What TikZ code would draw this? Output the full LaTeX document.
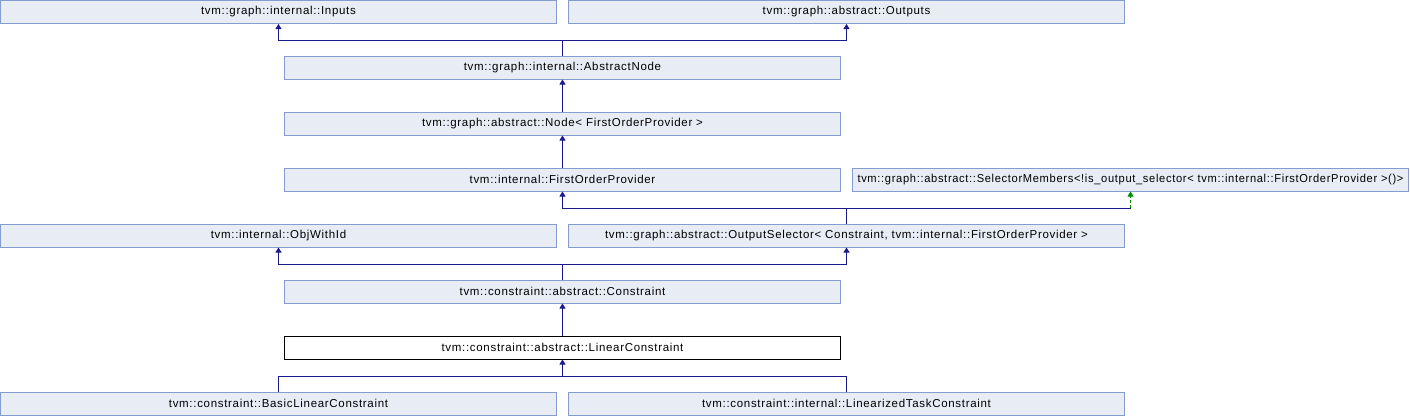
\documentclass[tikz,border=0pt]{standalone}
\usepackage{fontspec}
\usepackage{graphicx}
\setmainfont{Liberation Sans}
\newfontfamily\doxfont[LetterSpace=6]{Liberation Sans}
\usetikzlibrary{arrows.meta}
\definecolor{edgeblue}{RGB}{25,25,140}
\definecolor{edgegreen}{RGB}{0,140,0}
\definecolor{boxfill}{RGB}{232,236,244}
\definecolor{boxline}{RGB}{132,156,208}
\tikzset{
  cls/.style={draw=boxline, fill=boxfill, line width=1pt, minimum width=556pt, minimum height=23pt, inner sep=0pt, font=\doxfont\fontsize{11.5pt}{13pt}\selectfont},
  clscur/.style={cls, draw=black, fill=white},
  inh/.style={draw=edgeblue, line width=1pt, -{Triangle[length=5pt,width=6pt]}},
  tmpl/.style={draw=edgegreen, line width=1pt, dashed, dash pattern=on 3pt off 2pt, -{Triangle[length=5pt,width=6pt]}},
  seg/.style={draw=edgeblue, line width=1pt}
}
\begin{document}
\begin{tikzpicture}[x=1pt,y=-1pt]
\useasboundingbox (0,0) rectangle (1410,416);
\node[cls] (inputs)  at (278.5,12)   {tvm::graph::internal::Inputs};
\node[cls] (outputs) at (846.5,12)   {tvm::graph::abstract::Outputs};
\node[cls] (absnode) at (562.5,67.5) {tvm::graph::internal::AbstractNode};
\node[cls] (node)    at (562.5,123.5) {tvm::graph::abstract::Node< FirstOrderProvider >};
\node[cls] (fop)     at (562.5,179.5) {tvm::internal::FirstOrderProvider};
\node[cls] (selmem)  at (1130.5,179.5) {\resizebox{546pt}{\height}{tvm::graph::abstract::SelectorMembers<!is\_output\_selector< tvm::internal::FirstOrderProvider >()>}};
\node[cls] (objid)   at (278.5,235.5) {tvm::internal::ObjWithId};
\node[cls] (outsel)  at (846.5,235.5) {tvm::graph::abstract::OutputSelector< Constraint, tvm::internal::FirstOrderProvider >};
\node[cls] (constr)  at (562.5,291.5) {tvm::constraint::abstract::Constraint};
\node[clscur] (lincon) at (562.5,347.5) {tvm::constraint::abstract::LinearConstraint};
\node[cls] (basic)   at (278.5,403.5) {tvm::constraint::BasicLinearConstraint};
\node[cls] (lintask) at (846.5,403.5) {tvm::constraint::internal::LinearizedTaskConstraint};

% AbstractNode -> Inputs, Outputs
\coordinate (j1) at (562.5,40);
\draw[seg] (absnode.north) -- (j1);
\draw[inh] (j1) -| (inputs.south);
\draw[inh] (j1) -| (outputs.south);
% Node -> AbstractNode
\draw[inh] (node.north) -- (absnode.south);
% FOP -> Node
\draw[inh] (fop.north) -- (node.south);
% OutputSelector -> FOP, SelectorMembers
\coordinate (j2) at (846.5,208);
\coordinate (j2r) at (1130.5,208);
\draw[seg] (outsel.north) -- (j2);
\draw[inh] (j2) -| (fop.south);
\draw[seg] (j2) -- (j2r);
\draw[tmpl] (j2r) -- (selmem.south);
% Constraint -> ObjWithId, OutputSelector
\coordinate (j3) at (562.5,264);
\draw[seg] (constr.north) -- (j3);
\draw[inh] (j3) -| (objid.south);
\draw[inh] (j3) -| (outsel.south);
% LinearConstraint -> Constraint
\draw[inh] (lincon.north) -- (constr.south);
% Basic, LinTask -> LinearConstraint
\coordinate (j4) at (562.5,376);
\draw[seg] (basic.north) |- (j4);
\draw[seg] (lintask.north) |- (j4);
\draw[inh] (j4) -- (lincon.south);
\end{tikzpicture}
\end{document}
